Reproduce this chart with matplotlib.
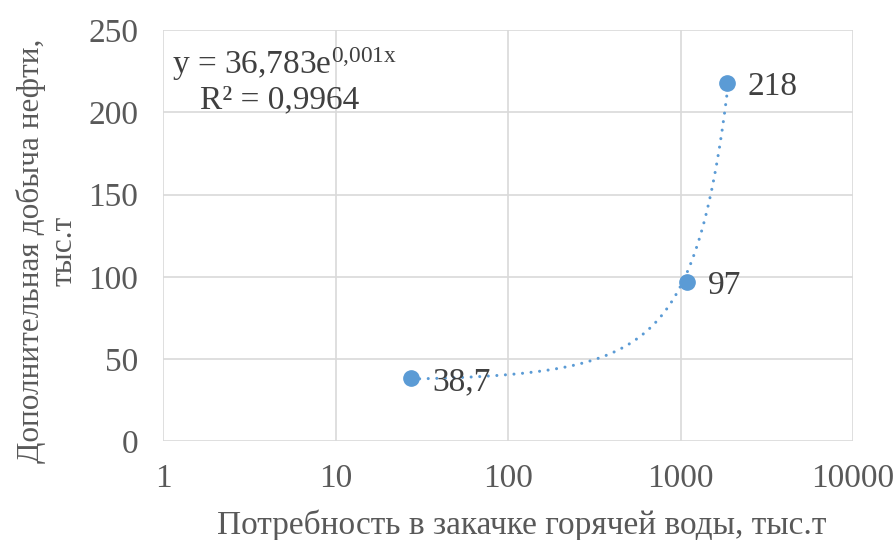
import numpy as np
import matplotlib
matplotlib.use("Agg")
import matplotlib.pyplot as plt

x_vals = [27.4, 1090, 1860]
y_vals = [38.7, 97, 218]
labels = ["38,7", "97", "218"]
x_ticks = [1, 10, 100, 1000, 10000]
y_ticks = [0, 50, 100, 150, 200, 250]

plt.rcParams['font.family'] = ['Liberation Serif', 'DejaVu Serif']
plt.rcParams['mathtext.fontset'] = 'custom'
plt.rcParams['mathtext.rm'] = 'Liberation Serif'
plt.rcParams['mathtext.it'] = 'Liberation Serif'
blue = '#5B9BD5'
txt = '#404040'
tick_c = '#595959'

fig = plt.figure(figsize=(8.96, 5.4), dpi=100)
ax = fig.add_axes([0.182, 0.183, 0.770, 0.761])

# exponential trendline fitted to the data
xa = np.array(x_vals); ya = np.array(y_vals)
b, lna = np.polyfit(xa, np.log(ya), 1)
xt = np.linspace(xa.min(), xa.max(), 400)
ax.plot(xt, np.exp(lna) * np.exp(b * xt), color=blue, lw=2.2,
        linestyle=(0, (0.01, 2.8)), dash_capstyle='round', zorder=2)
ax.plot(x_vals, y_vals, 'o', color=blue, ms=11, zorder=3)

for xv, yv, lb in zip(x_vals, y_vals, labels):
    ax.annotate(lb, (xv, yv), xytext=(15, -3), textcoords='offset points',
                ha='left', va='center', fontsize=24, color=txt)

ax.set_xscale('log')
ax.set_xlim(1, 10000)
ax.set_ylim(0, 250)
ax.set_xticks(x_ticks)
ax.set_xticklabels([str(v) for v in x_ticks])
ax.set_yticks(y_ticks)
ax.minorticks_off()
ax.grid(True, color='#D9D9D9', lw=1.2)
ax.set_axisbelow(True)
for s in ax.spines.values():
    s.set_visible(False)
ax.tick_params(length=0, labelsize=24, colors=tick_c, pad=18)
ax.tick_params(axis='x', pad=16)

fig.text(0.5826, 0.028, 'Потребность в закачке горячей воды, тыс.т', fontsize=24,
         color=tick_c, ha='center', va='center')
fig.text(0.053, 0.535, 'Дополнительная добыча нефти,\nтыс.т', fontsize=22.5,
         color=tick_c, ha='center', va='center', rotation=90, linespacing=1.15,
         multialignment='center')

fig.text(172 / 896, 1 - 64 / 540, r'y = 36,783e$^{\mathrm{0{,}001x}}$',
         fontsize=24, color=txt, ha='left', va='center')
fig.text(200 / 896, 1 - 100 / 540, 'R² = 0,9964',
         fontsize=24, color=txt, ha='left', va='center')

fig.savefig('out.png', dpi=100)
